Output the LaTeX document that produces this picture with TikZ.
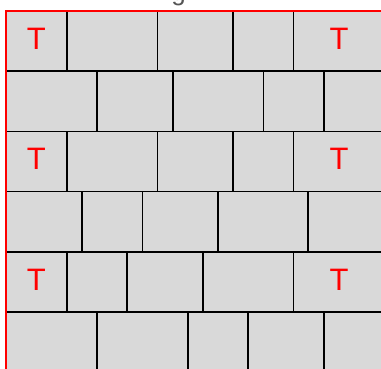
\documentclass[tikz,border=0pt]{standalone}
\usepackage{fontspec}
\setmainfont{Liberation Sans}
\definecolor{brickgray}{RGB}{217,217,217}
\definecolor{titlegray}{RGB}{85,85,85}
\tikzset{
  brick/.style={draw=black, fill=brickgray, line width=1.6pt},
  edge/.style={draw=red, line width=2.4pt},
  tlabel/.style={text=red, font=\fontsize{31}{31}\selectfont, inner sep=0pt, anchor=base},
  title/.style={text=titlegray, font=\fontsize{26}{26}\selectfont, inner sep=0pt, anchor=base}
}
\begin{document}
\begin{tikzpicture}[x=1pt, y=-1pt]
\clip (0,0) rectangle (381,369);
\fill[white] (0,0) rectangle (381,369);
% row 1
\foreach \a/\b in {6/66.7, 66.7/157.3, 157.3/232.7, 232.7/293.3, 293.3/385}
  \draw[brick] (\a,11) rectangle (\b,71.2);
% row 2
\foreach \a/\b in {6/96.7, 96.7/172.7, 172.7/263.3, 263.3/323.7, 323.7/400}
  \draw[brick] (\a,71.2) rectangle (\b,131.5);
% row 3
\foreach \a/\b in {6/66.7, 66.7/157.3, 157.3/232.7, 232.7/293.3, 293.3/385}
  \draw[brick] (\a,131.5) rectangle (\b,191.7);
% row 4
\foreach \a/\b in {6/82, 82/142.3, 142.3/218, 218/308, 308/400}
  \draw[brick] (\a,191.7) rectangle (\b,252);
% row 5
\foreach \a/\b in {6/66.7, 66.7/127, 127/202.7, 202.7/293.3, 293.3/385}
  \draw[brick] (\a,252) rectangle (\b,312.2);
% row 6
\foreach \a/\b in {6/96.7, 96.7/187.7, 187.7/248, 248/323.7, 323.7/400}
  \draw[brick] (\a,312.2) rectangle (\b,372.5);
% labels
\node[tlabel] (t1) at (36.3,49.3) {T};
\node[tlabel] (t2) at (339,49.3) {T};
\node[tlabel] (t3) at (36.3,169.8) {T};
\node[tlabel] (t4) at (339,169.8) {T};
\node[tlabel] (t5) at (36.3,290.3) {T};
\node[tlabel] (t6) at (339,290.3) {T};
% red edges
\coordinate (corner) at (6,11);
\coordinate (rightend) at (390,11);
\coordinate (bottomend) at (6,380);
\draw[edge] (bottomend) -- (corner) -- (rightend);
% title fragment
\node[title] (ttl) at (178.5,0.5) {g};
\end{tikzpicture}
\end{document}
